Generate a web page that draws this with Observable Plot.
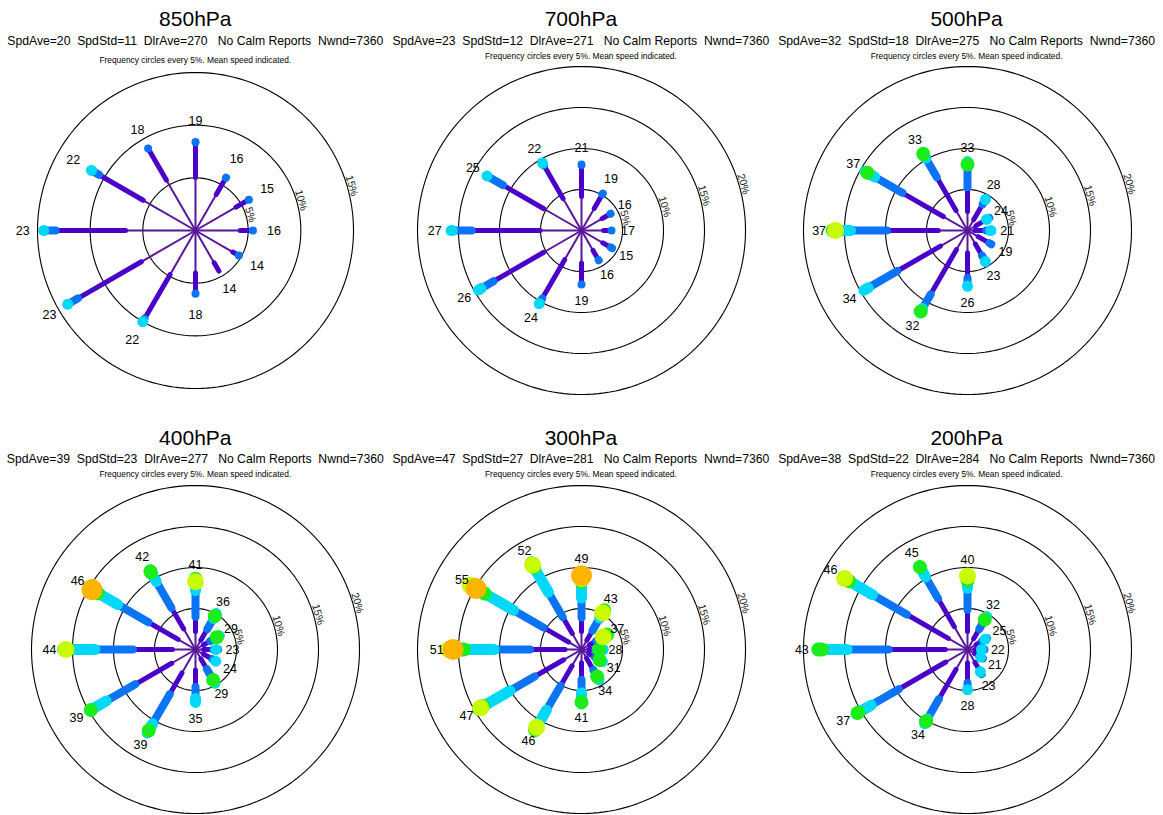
<!DOCTYPE html>
<html><head><meta charset="utf-8">
<script src="https://cdn.jsdelivr.net/npm/d3@7"></script>
<script src="https://cdn.jsdelivr.net/npm/@observablehq/plot@0.6"></script>
<style>
body{margin:0;background:#fff;}
#wrap{position:relative;width:1163px;height:815px;overflow:hidden;font-family:"Liberation Sans",Arial,Helvetica,sans-serif;color:#000;background:#fff;}
.t{position:absolute;transform:translate(-50%,-50%);white-space:pre;line-height:1;}
.p{position:absolute;}
</style></head><body><div id="wrap"></div>
<script>
// ---------- data ----------
const levels = ["850hPa", "700hPa", "500hPa", "400hPa", "300hPa", "200hPa"];
const spdAve = [20, 23, 32, 39, 47, 38];
const spdStd = [11, 12, 18, 23, 27, 22];
const dirAve = [270, 271, 275, 277, 281, 284];
const nwnd = [7360, 7360, 7360, 7360, 7360, 7360];
const directions = [0, 30, 60, 90, 120, 150, 180, 210, 240, 270, 300, 330];
const ringSets = [[5, 10, 15], [5, 10, 15, 20], [5, 10, 15, 20], [5, 10, 15, 20], [5, 10, 15, 20], [5, 10, 15, 20]];

// frequency (%) where each speed class ends (colour change), last value = tip of the petal
const cum850 = [
  [4.8, 8.0, 8.4], [3.7, 5.4, 5.8], [4.2, 5.5, 5.85], [4.0, 5.1, 5.45],
  [3.85, 4.4, 4.75], [3.3, 4.45], [3.8, 5.6, 6.0], [4.6, 9.3, 9.6, 10.0],
  [5.7, 12.5, 13.6, 14.0], [6.4, 12.9, 14.0, 14.4], [5.5, 10.2, 11.0, 11.4], [5.3, 8.7, 9.0]
];
const cum700 = [
  [3.85, 7.5, 8.05], [2.8, 4.6, 5.2], [2.6, 3.6, 4.1], [2.4, 3.2, 3.66],
  [2.7, 3.65, 4.3], [2.5, 3.7, 4.2], [3.65, 6.1, 6.6], [3.8, 9.1, 9.8, 10.3],
  [5.0, 11.9, 13.5, 14.5], [4.75, 12.9, 15.1, 15.9], [5.0, 10.6, 12.7, 13.3], [4.2, 8.7, 9.0, 9.5]
];
const cum500 = [
  [2.0, 4.8, 7.3, 7.55, 8.05], [1.2, 3.2, 3.9, 4.37], [0.9, 2.1, 2.4, 2.7], [0.6, 1.8, 2.3, 2.85],
  [1.2, 2.6, 3.35], [1.6, 3.05, 3.9, 4.35], [2.4, 5.3, 6.1, 6.8], [2.4, 8.5, 10.3, 10.6, 11.4],
  [3.5, 9.4, 13.3, 14.6], [3.25, 9.35, 13.6, 15.2, 15.4, 16.1], [3.1, 8.7, 12.4, 13.6, 14.1], [2.5, 7.0, 9.5, 9.9, 10.8]
];
const cum400 = [
  [1.9, 3.5, 6.5, 7.4, 7.6, 8.25], [1.0, 2.4, 3.7, 4.2, 4.7], [0.8, 1.6, 2.3, 2.5, 3.0], [0.7, 1.7, 2.1, 2.5],
  [0.8, 1.9, 2.3, 2.85], [1.0, 2.3, 3.6, 3.9, 4.3], [2.2, 4.1, 5.3, 6.45], [3.0, 5.8, 9.8, 10.9, 11.4],
  [3.05, 8.0, 11.9, 13.9, 14.75], [2.5, 7.15, 11.6, 14.7, 15.0, 15.8], [2.15, 6.15, 10.3, 12.9, 13.3, 13.3, 14.6], [2.6, 5.4, 8.9, 10.0, 11.0]
];
const cum300 = [
  [1.9, 3.4, 5.6, 7.4, 7.6, 7.8, 9.0], [1.0, 2.2, 3.75, 4.2, 4.5, 5.15], [0.8, 1.6, 2.0, 2.3, 2.6, 3.05], [0.6, 1.2, 1.5, 1.8, 2.15],
  [0.7, 1.4, 1.8, 2.1, 2.55], [0.9, 2.4, 3.1, 3.4, 3.8], [1.3, 3.2, 4.6, 5.8, 6.4], [2.0, 4.6, 7.9, 10.0, 10.3, 10.95],
  [2.2, 6.1, 9.4, 13.0, 13.4, 14.2], [1.7, 5.8, 10.0, 13.5, 14.7, 14.9, 15.65], [1.5, 4.85, 8.9, 12.8, 14.2, 14.4, 14.85], [1.95, 4.1, 7.4, 10.7, 11.1, 11.9]
];
const cum200 = [
  [1.9, 4.35, 6.8, 7.6, 8.0, 8.95], [1.2, 2.4, 3.5, 3.8, 4.2], [0.9, 1.6, 2.1, 2.5], [0.6, 1.1, 1.4, 1.7],
  [0.7, 1.2, 1.5, 1.85], [1.5, 2.5, 2.8, 3.15], [1.3, 3.6, 4.4, 4.9], [2.5, 6.5, 9.1, 9.6, 10.1],
  [2.75, 9.2, 12.9, 14.5, 15.5], [2.4, 9.15, 14.0, 16.9, 18.2], [2.4, 8.05, 12.7, 15.8, 16.4, 17.3], [2.9, 6.7, 9.55, 10.9, 11.6]
];
// mean speed per direction
const spd850 = [19, 16, 15, 16, 14, 14, 18, 22, 23, 23, 22, 18];
const spd700 = [21, 19, 16, 17, 15, 16, 19, 24, 26, 27, 25, 22];
const spd500 = [33, 28, 24, 21, 19, 23, 26, 32, 34, 37, 37, 33];
const spd400 = [41, 36, 29, 23, 24, 29, 35, 39, 39, 44, 46, 42];
const spd300 = [49, 43, 37, 28, 31, 34, 41, 46, 47, 51, 55, 52];
const spd200 = [40, 32, 25, 22, 21, 23, 28, 34, 37, 43, 46, 45];

const cums = [cum850, cum700, cum500, cum400, cum300, cum200];
const spds = [spd850, spd700, spd500, spd400, spd300, spd200];

// ---------- styles / layout ----------
const binColors = ["#58169a", "#4a00c8", "#0a74f4", "#00d8fa", "#1cec1c", "#c8fa00", "#ffb400"];
const binWidths = [2, 5, 8, 11, 14, 17, 21];
const colX = [195.3, 580.9, 966.6];
const rowDY = 418.6;
const W = 386, H = 400;
const font = '"Liberation Sans", Arial, Helvetica, sans-serif';

const wrap = document.getElementById("wrap");
function addText(txt, x, y, size) {
  const d = document.createElement("div");
  d.className = "t";
  d.textContent = txt;
  d.style.left = x + "px";
  d.style.top = y + "px";
  d.style.fontSize = size + "px";
  wrap.appendChild(d);
}

const rad = Math.PI / 180;
levels.forEach((lev, k) => {
  const col = k % 3, row = Math.floor(k / 3);
  const cx = colX[col], oy = row * rowDY;
  const rings = ringSets[k];
  const ringMax = rings[rings.length - 1];
  const outerPx = ringMax === 15 ? 158 : 164;
  const s = outerPx / ringMax; // px per percent
  const cy = oy + 230;

  addText(lev, cx, oy + 18.3, 21);
  addText(`SpdAve=${spdAve[k]}  SpdStd=${spdStd[k]}  DlrAve=${dirAve[k]}   No Calm Reports  Nwnd=${nwnd[k]}`, cx, oy + 40.7, 12.2);
  addText("Frequency circles every 5%. Mean speed indicated.", cx, oy + (k === 0 ? 60 : 55.5), 8.4);

  const cum = cums[k], spd = spds[k];
  const segs = [];
  const labels = [];
  // round caps: a class's segment starts one cap-radius beyond the colour change
  const cap = b => binWidths[b] / 2 / s;
  cum.forEach((c, i) => {
    const th = directions[i] * rad;
    const n = c.length;
    c.forEach((v, b) => {
      let start = b === 0 ? 0 : c[b - 1] + cap(b);
      const end = b === n - 1 ? c[n - 1] : c[b] + cap(b + 1);
      if (start > end) start = end;
      segs.push({bin: b, x1: start * Math.sin(th), y1: start * Math.cos(th), x2: end * Math.sin(th), y2: end * Math.cos(th)});
    });
    const tip = c[n - 1] + 2;
    labels.push({x: tip * Math.sin(th), y: tip * Math.cos(th), t: String(spd[i])});
  });
  const circ = [];
  rings.forEach(r => {
    for (let a = 0; a <= 360; a += 2) circ.push({ring: r, x: r * Math.sin(a * rad), y: r * Math.cos(a * rad)});
  });
  const lb = 74 * rad;
  const ringLab = rings.map(r => ({x: (r + 4.5 / s) * Math.sin(lb), y: (r + 4.5 / s) * Math.cos(lb), t: r + "%"}));

  const marks = [
    Plot.line(circ, {x: "x", y: "y", z: "ring", stroke: "black", strokeWidth: 1.1})
  ];
  for (let b = 0; b < binColors.length; b++) {
    marks.push(Plot.link(segs.filter(d => d.bin === b), {
      x1: "x1", y1: "y1", x2: "x2", y2: "y2",
      stroke: binColors[b], strokeWidth: binWidths[b], strokeLinecap: "round"
    }));
  }
  marks.push(Plot.text(ringLab, {x: "x", y: "y", text: "t", rotate: 74, fontSize: 10.5, fill: "#222"}));
  marks.push(Plot.text(labels, {x: "x", y: "y", text: "t", fontSize: 12.5, fill: "black"}));

  const chart = Plot.plot({
    width: W, height: H,
    marginTop: 0, marginBottom: 0, marginLeft: 0, marginRight: 0,
    x: {axis: null, domain: [-(W / 2) / s, (W / 2) / s]},
    y: {axis: null, domain: [-(H / 2) / s, (H / 2) / s]},
    style: {background: "transparent", overflow: "visible", fontFamily: font, maxWidth: "none"},
    marks
  });
  const holder = document.createElement("div");
  holder.className = "p";
  holder.style.left = (cx - W / 2) + "px";
  holder.style.top = (cy - H / 2) + "px";
  holder.appendChild(chart);
  wrap.appendChild(holder);
});
</script>
</body></html>
